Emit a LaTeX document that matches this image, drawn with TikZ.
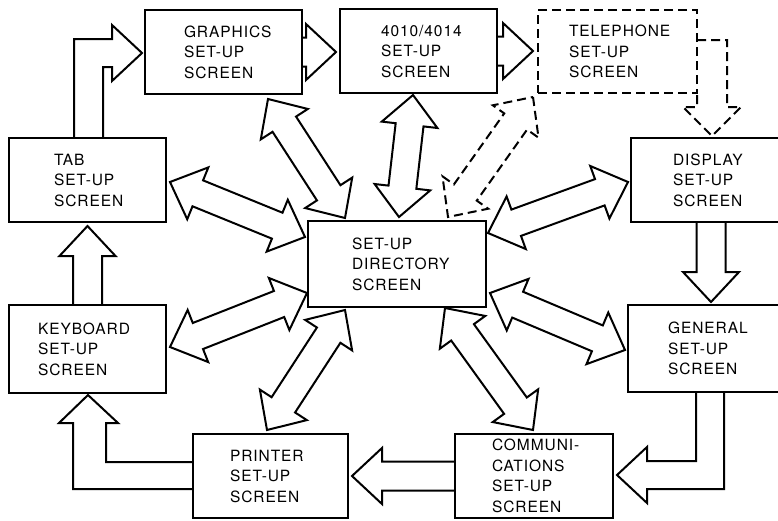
\documentclass[tikz,border=0pt]{standalone}
\usepackage{fontspec}
\setmainfont{TeX Gyre Heros}[LetterSpace=6]
\usetikzlibrary{calc}
\newcommand{\screenfont}{\fontsize{15.5}{20.5}\selectfont\hyphenpenalty=10000\exhyphenpenalty=10000}
\tikzset{screen/.style={draw, line width=2.2pt, inner sep=0pt, align=left, font=\screenfont}}
\tikzset{block/.style={line width=2pt, line join=miter}}
\tikzset{blockd/.style={block, dash pattern=on 9pt off 5pt}}
\newcommand{\dblarrow}[3]{\draw[#3] (#1) --
 ($(#1)!30pt!(#2)!28pt!90:(#2)$) -- ($(#1)!30pt!(#2)!14pt!90:(#2)$) --
 ($(#2)!30pt!(#1)!14pt!-90:(#1)$) -- ($(#2)!30pt!(#1)!28pt!-90:(#1)$) --
 (#2) --
 ($(#2)!30pt!(#1)!28pt!90:(#1)$) -- ($(#2)!30pt!(#1)!14pt!90:(#1)$) --
 ($(#1)!30pt!(#2)!14pt!-90:(#2)$) -- ($(#1)!30pt!(#2)!28pt!-90:(#2)$) -- cycle}
\newcommand{\sglarrow}[3]{\draw[#3]
 ($(#1)!14.5pt!90:(#2)$) --
 ($(#2)!30pt!(#1)!14.5pt!-90:(#1)$) -- ($(#2)!30pt!(#1)!28pt!-90:(#1)$) --
 (#2) --
 ($(#2)!30pt!(#1)!28pt!90:(#1)$) -- ($(#2)!30pt!(#1)!14.5pt!90:(#1)$) --
 ($(#1)!14.5pt!-90:(#2)$)}

\begin{document}
\begin{tikzpicture}[x=1pt, y=-1pt]
		\clip (0,0) rectangle (778,520);
		\fill[white] (0,0) rectangle (778,520);

		% Screens
		\node[screen, minimum width=157, minimum height=84, text width=79pt] (graphics) at (223.5,52) {GRAPHICS\\SET-UP\\SCREEN};
		\node[screen, minimum width=157, minimum height=84, text width=75pt] (tek) at (418.5,51) {4010/4014\\SET-UP\\SCREEN};
		\node[screen, dash pattern=on 9pt off 5pt, minimum width=159, minimum height=83, text width=97pt] (telephone) at (617.5,51.5) {TELEPHONE\\SET-UP\\SCREEN};
		\node[screen, minimum width=157, minimum height=84, text width=67pt] (tab) at (87.5,180) {TAB\\SET-UP\\SCREEN};
		\node[screen, minimum width=160, minimum height=84, text width=76pt] (display) at (711,180) {DISPLAY\\SET-UP\\SCREEN};
		\node[screen, minimum width=178, minimum height=86, text width=90pt] (directory) at (397,264) {SET-UP\\DIRECTORY\\SCREEN};
		\node[screen, minimum width=157, minimum height=88, text width=99pt] (keyboard) at (87.5,349) {KEYBOARD\\SET-UP\\SCREEN};
		\node[screen, minimum width=162, minimum height=87, text width=82pt] (general) at (709,348.5) {GENERAL\\SET-UP\\SCREEN};
		\node[screen, minimum width=155, minimum height=84, text width=81pt] (printer) at (270.5,476) {PRINTER\\SET-UP\\SCREEN};
		\node[screen, minimum width=158, minimum height=84, text width=84pt] (comm) at (534,476) {COMMUNI-\\CATIONS\\SET-UP\\SCREEN};

		% Tips
		\coordinate (tekW) at (336,52);
		\coordinate (telW) at (533,51);
		\coordinate (genN) at (711,302);
		\coordinate (prnE) at (352,476);
		\coordinate (tabS) at (87.5,226);
		%% double arrows
		\coordinate (tabE) at (170,182);
		\coordinate (dirTab) at (305,237);
		\coordinate (graS) at (268,99);
		\coordinate (dirGra) at (345,218);
		\coordinate (tekS) at (413,95);
		\coordinate (dirTek) at (399,217);
		\coordinate (telS) at (533,97);
		\coordinate (dirTel) at (448,217);
		\coordinate (disW) at (628,182);
		\coordinate (dirDis) at (488,233);
		\coordinate (genW) at (625,350);
		\coordinate (dirGen) at (490,293);
		\coordinate (comN) at (533,430);
		\coordinate (dirCom) at (445,308);
		\coordinate (prnN) at (267,430);
		\coordinate (dirPrn) at (345,310);
		\coordinate (keyE) at (170,347);
		\coordinate (dirKey) at (307,293);

		% Cycle of screens
		\draw[block] (74,138) -- (74,39) -- (112,39) -- (112,25) -- (142,53) -- (112,81) -- (112,67) -- (103,67) -- (103,138);
		\sglarrow{graphics.east}{tekW}{block};
		\sglarrow{tek.east}{telW}{block};
		\draw[blockd] (697,40) -- (727,40) -- (727,107) -- (741,107) -- (712,136) -- (683,107) -- (697,107) -- (697,93);
		\sglarrow{display.south}{genN}{block};
		\draw[block] (696,393) -- (696,461) -- (647,461) -- (647,447) -- (617,475) -- (647,503) -- (647,489) -- (724,489) -- (724,393);
		\sglarrow{comm.west}{prnE}{block};
		\draw[block] (193,462) -- (106,462) -- (106,423) -- (118,423) -- (88,395) -- (59,423) -- (73,423) -- (73,489) -- (193,489);
		\sglarrow{keyboard.north}{tabS}{block};

		% Directory links
		\dblarrow{tabE}{dirTab}{block};
		\dblarrow{graS}{dirGra}{block};
		\dblarrow{tekS}{dirTek}{block};
		\dblarrow{telS}{dirTel}{blockd};
		\dblarrow{disW}{dirDis}{block};
		\dblarrow{genW}{dirGen}{block};
		\dblarrow{comN}{dirCom}{block};
		\dblarrow{prnN}{dirPrn}{block};
		\dblarrow{keyE}{dirKey}{block};
	\end{tikzpicture}
\end{document}
